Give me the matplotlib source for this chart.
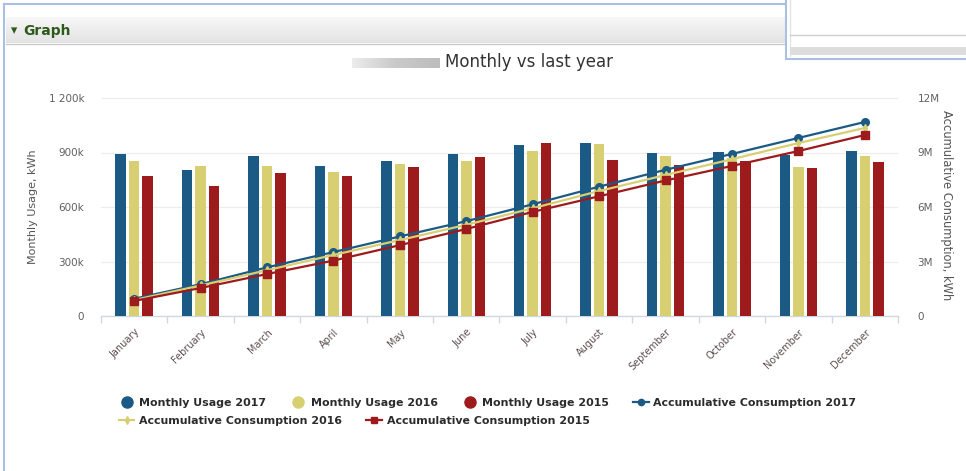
import numpy as np
import matplotlib
matplotlib.use("Agg")
import matplotlib.pyplot as plt
from matplotlib.lines import Line2D
from matplotlib.patches import Rectangle
from matplotlib.colors import LinearSegmentedColormap

# ---------------- data ----------------
months = ["January", "February", "March", "April", "May", "June", "July",
          "August", "September", "October", "November", "December"]
usage_2017 = [893, 801, 878, 827, 852, 893, 944, 951, 900, 904, 885, 909]   # kWh (thousands)
usage_2016 = [851, 823, 823, 790, 834, 852, 907, 948, 878, 869, 820, 878]
usage_2015 = [768, 713, 787, 768, 820, 873, 951, 860, 832, 851, 816, 845]
accum_2017 = [0.95, 1.75, 2.68, 3.52, 4.38, 5.22, 6.15, 7.12, 8.05, 8.92, 9.80, 10.68]  # kWh (millions)
accum_2016 = [0.88, 1.68, 2.52, 3.36, 4.18, 5.02, 5.93, 6.88, 7.76, 8.63, 9.52, 10.35]
accum_2015 = [0.83, 1.54, 2.31, 3.05, 3.90, 4.79, 5.73, 6.59, 7.46, 8.26, 9.08, 9.96]
left_ticks = [0, 300, 600, 900, 1200]
left_ticklabels = ["0", "300k", "600k", "900k", "1 200k"]
right_ticks = [0, 3, 6, 9, 12]
right_ticklabels = ["0", "3M", "6M", "9M", "12M"]

C17 = "#1c5a86"
C16 = "#d8cf72"
C15 = "#9e1b1d"

W, H = 966, 471
fig = plt.figure(figsize=(W / 100, H / 100), dpi=100)
fig.patch.set_facecolor("white")


def fx(x):
    return x / W


def fy(y):
    return 1 - y / H


# ---------------- window chrome ----------------
hdr = fig.add_axes([fx(6), fy(43), fx(960), 26 / H])
grad = np.linspace(0, 1, 50).reshape(-1, 1)
cm_h = LinearSegmentedColormap.from_list("h", ["#f7f7f7", "#e3e3e3"])
hdr.imshow(grad, aspect="auto", cmap=cm_h, extent=[0, 1, 0, 1], origin="upper")
hdr.axis("off")
fig.add_artist(Line2D([fx(6), 1], [fy(43.5), fy(43.5)], color="#c9c9c9", lw=1.0))
fig.text(fx(11), fy(31), "\u25be", color="#2d5a1b", fontsize=9, va="center", ha="left")
fig.text(fx(23), fy(31), "Graph", color="#2d5a1b", fontsize=10, fontweight="bold",
         va="center", ha="left")
fig.add_artist(Line2D([fx(4), fx(4)], [fy(4), 0], color="#a9c0de", lw=1.5))
fig.add_artist(Line2D([fx(4), fx(786)], [fy(4), fy(4)], color="#a9c0de", lw=1.5))

# top-right overlapping panel
fig.add_artist(Rectangle((fx(786), fy(59)), fx(186), 62 / H, transform=fig.transFigure,
                         facecolor="white", edgecolor="#a9c0de", lw=1.5, zorder=5))
fig.add_artist(Line2D([fx(790), fx(790)], [fy(56), 1], color="#e4e4e4", lw=1.0, zorder=6))
fig.add_artist(Line2D([fx(790), 1], [fy(35), fy(35)], color="#cfcfcf", lw=1.0, zorder=6))
fig.add_artist(Rectangle((fx(790), fy(55)), fx(176), 8 / H, transform=fig.transFigure,
                         facecolor="#dcdcdc", edgecolor="none", zorder=6))

# blurred bar left of the title
blur = fig.add_axes([fx(352), fy(68), fx(88), 10 / H])
gh = np.linspace(0, 1, 100).reshape(1, -1)
cm_b = LinearSegmentedColormap.from_list("b", ["#ececec", "#c9c9c9", "#bdbdbd"])
blur.imshow(gh, aspect="auto", cmap=cm_b, extent=[0, 1, 0, 1])
blur.axis("off")

fig.text(fx(529), fy(62), "Monthly vs last year", fontsize=12, color="#333333",
         ha="center", va="center")

# ---------------- chart ----------------
ax = fig.add_axes([fx(101), fy(316), fx(797), (316 - 98) / H])
ax2 = ax.twinx()

x = np.arange(len(months))
bw = 0.158
step = 0.203
ax.bar(x - step, usage_2017, width=bw, color=C17, zorder=3)
ax.bar(x, usage_2016, width=bw, color=C16, zorder=3)
ax.bar(x + step, usage_2015, width=bw, color=C15, zorder=3)

ax2.plot(x, accum_2017, color=C17, lw=1.6, marker="o", ms=5.5, zorder=4)
ax2.plot(x, accum_2016, color=C16, lw=1.6, marker="d", ms=4, zorder=4)
ax2.plot(x, accum_2015, color=C15, lw=1.6, marker="s", ms=5.5, zorder=4)

ax.set_xlim(-0.5, 11.5)
ax.set_ylim(0, 1200)
ax2.set_ylim(0, 12)

ax.set_yticks(left_ticks)
ax.set_yticklabels(left_ticklabels)
ax2.set_yticks(right_ticks)
ax2.set_yticklabels(right_ticklabels)

ax.grid(axis="y", color="#ececec", lw=0.8, zorder=0)
ax.set_axisbelow(True)
for a in (ax, ax2):
    for s in ("top", "left", "right"):
        a.spines[s].set_visible(False)
    a.spines["bottom"].set_color("#cfd8e2")
    a.spines["bottom"].set_linewidth(1.0)
ax2.spines["bottom"].set_visible(False)

ax.tick_params(axis="y", length=0, pad=12, labelsize=7.5, labelcolor="#606060")
ax2.tick_params(axis="y", length=0, pad=14, labelsize=7.5, labelcolor="#606060")

ax.set_xticks(x)
ax.set_xticklabels(months, rotation=45, ha="right", rotation_mode="anchor",
                   fontsize=7, color="#5c4e4e")
ax.tick_params(axis="x", which="major", length=0, pad=8)
ax.set_xticks(np.arange(-0.5, 12, 1), minor=True)
ax.tick_params(axis="x", which="minor", length=5, color="#cfd8e2", width=1)

fig.text(fx(33), fy(207), "Monthly Usage, kWh", rotation=90, fontsize=8,
         color="#555555", ha="center", va="center")
fig.text(fx(946), fy(205), "Accumulative Consumption, kWh", rotation=270, fontsize=8.3,
         color="#555555", ha="center", va="center")

# ---------------- legend ----------------
lp = dict(weight="bold", size=7.9)
h1 = [Line2D([], [], ls="", marker="o", ms=8, color=C17),
      Line2D([], [], ls="", marker="o", ms=8, color=C16),
      Line2D([], [], ls="", marker="o", ms=8, color=C15),
      Line2D([], [], color=C17, lw=1.6, marker="o", ms=4.5)]
l1 = ["Monthly Usage 2017", "Monthly Usage 2016", "Monthly Usage 2015",
      "Accumulative Consumption 2017"]
h2 = [Line2D([], [], color=C16, lw=1.6, marker="d", ms=4),
      Line2D([], [], color=C15, lw=1.6, marker="s", ms=4.5)]
l2 = ["Accumulative Consumption 2016", "Accumulative Consumption 2015"]

leg1 = fig.legend(h1, l1, loc="center left", bbox_to_anchor=(fx(119), fy(403)), ncol=4,
                  frameon=False, prop=lp, handlelength=1.4, handletextpad=0.45,
                  columnspacing=2.2, borderpad=0, borderaxespad=0)
for t in leg1.get_texts():
    t.set_color("#2b2b2b")
leg2 = fig.legend(h2, l2, loc="center left", bbox_to_anchor=(fx(119), fy(421)), ncol=2,
                  frameon=False, prop=lp, handlelength=1.4, handletextpad=0.45,
                  columnspacing=2.2, borderpad=0, borderaxespad=0)
for t in leg2.get_texts():
    t.set_color("#2b2b2b")

fig.savefig("out.png", dpi=100)
